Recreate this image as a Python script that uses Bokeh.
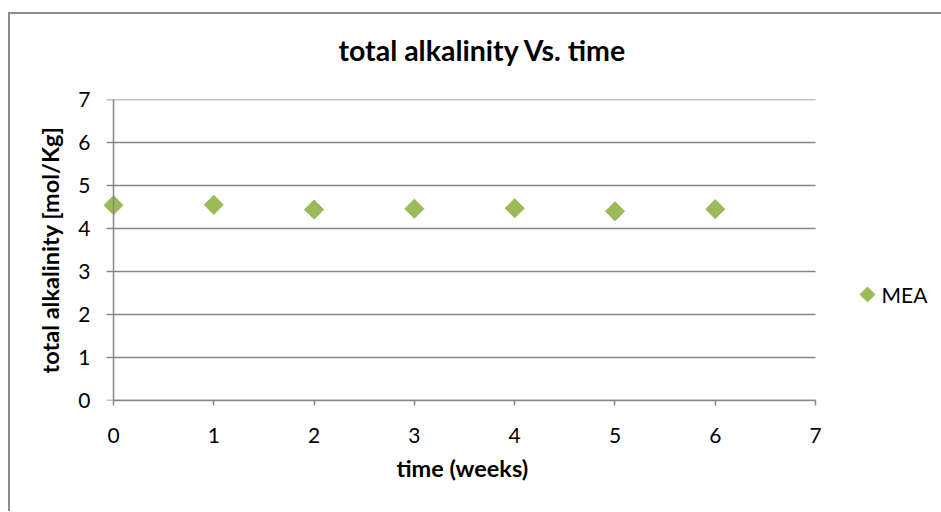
from bokeh.plotting import figure
from bokeh.models import FixedTicker, Range1d, Span, Title
from bokeh.core.properties import value
from bokeh.embed import file_html
from bokeh.resources import INLINE
import math

weeks = [0, 1, 2, 3, 4, 5, 6]
mea = [4.54, 4.55, 4.44, 4.46, 4.47, 4.40, 4.45]
x_ticks = [0, 1, 2, 3, 4, 5, 6, 7]
y_ticks = [0, 1, 2, 3, 4, 5, 6, 7]
series_name = "MEA"
title_text = "total alkalinity Vs. time"
x_label = "time (weeks)"
y_label = "total alkalinity [mol/Kg]"

FONT = "Lato"
GRAY = "#868686"
GREEN = "#9BBB59"

X_MIN, X_MAX, X_VIEW_END = 0, 7, 8.176
X_PAD = 0.1          # room so the first diamond is not clipped
GRID_STUB = 0.07     # grid lines start a tick's length left of the y axis
FRAME_W, FRAME_H = 830, 301

W, H = 933, 499
p = figure(width=W, height=H, output_backend="svg", toolbar_location=None,
           x_range=Range1d(X_MIN - X_PAD, X_VIEW_END), y_range=Range1d(0, 7),
           min_border_left=93, min_border_right=10,
           min_border_top=85, min_border_bottom=113)
p.styles = {"border-top": "2px solid #8c8c8c", "border-left": "2px solid #8c8c8c",
            "margin-left": "8px", "margin-top": "12px"}
p.outline_line_color = None
p.background_fill_color = "white"
p.border_fill_color = "white"
p.extra_x_ranges = {"px": Range1d(0, FRAME_W)}
p.extra_y_ranges = {"px": Range1d(0, FRAME_H)}

# chart title
p.title.text = title_text
p.title.align = "left"
p.title.offset = 235
p.title.text_font = FONT
p.title.text_font_size = "28.5px"
p.title.text_font_style = "bold"
p.title.text_color = "black"
p.title.standoff = 0
# empty spacer between the title and the plot area
p.add_layout(Title(text=" ", text_font_size="1px", standoff=30), "above")

for ax in (p.xaxis[0], p.yaxis[0]):
    ax.axis_line_color = GRAY
    ax.axis_line_width = 1.5
    ax.major_tick_line_color = GRAY
    ax.major_tick_line_width = 1.5
    ax.minor_tick_line_color = None
    ax.major_tick_in = 0
    ax.major_label_text_font = FONT
    ax.major_label_text_font_size = "21px"
    ax.major_label_text_color = "black"
    ax.axis_label_text_font = FONT
    ax.axis_label_text_font_size = "23.5px"
    ax.axis_label_text_font_style = "bold"
    ax.axis_label_text_color = "black"

p.xaxis[0].ticker = FixedTicker(ticks=x_ticks)
p.yaxis[0].ticker = FixedTicker(ticks=y_ticks)
p.xaxis[0].bounds = (X_MIN, X_MAX)
p.xaxis[0].major_tick_out = 5
p.xaxis[0].major_label_standoff = 22

# x axis title, centred under the 0..7 axis (not under the wider frame)
p.add_layout(Title(text=x_label, align="left", offset=293, standoff=12,
                   text_font=FONT, text_font_size="23.5px", text_font_style="bold",
                   text_color="black"), "below")

p.yaxis[0].axis_line_color = None
p.yaxis[0].major_tick_line_color = None
p.yaxis[0].major_tick_out = 0
p.yaxis[0].major_label_standoff = 13
p.yaxis[0].axis_label = y_label
p.yaxis[0].axis_label_standoff = 11

p.xgrid.grid_line_color = None
p.ygrid.grid_line_color = None

# horizontal grid lines (from the y ticks), with the tick stub left of the axis
p.segment(x0=[X_MIN - GRID_STUB] * len(y_ticks), x1=[X_MAX] * len(y_ticks),
          y0=y_ticks, y1=y_ticks, line_color=GRAY, line_width=1.5)
# vertical axis line at x = 0
p.add_layout(Span(location=X_MIN, dimension="height", line_color=GRAY, line_width=1.5))

p.scatter(weeks, mea, marker="square", angle=math.pi / 4, size=13.5,
          fill_color=GREEN, line_color=GREEN)

# legend (marker + label) placed in pixel coordinates of the frame
LEG_X, LEG_Y = 764, 106
p.scatter(x=[LEG_X], y=[LEG_Y], marker="square", angle=math.pi / 4, size=10.6,
          fill_color=GREEN, line_color=GREEN, x_range_name="px", y_range_name="px")
p.text(x=[LEG_X + 14], y=[LEG_Y], text=[series_name], x_range_name="px", y_range_name="px",
       text_baseline="middle", text_align="left", text_font=value(FONT),
       text_font_size="21px", text_color="black")

open("out.html", "w").write(file_html(p, INLINE))
